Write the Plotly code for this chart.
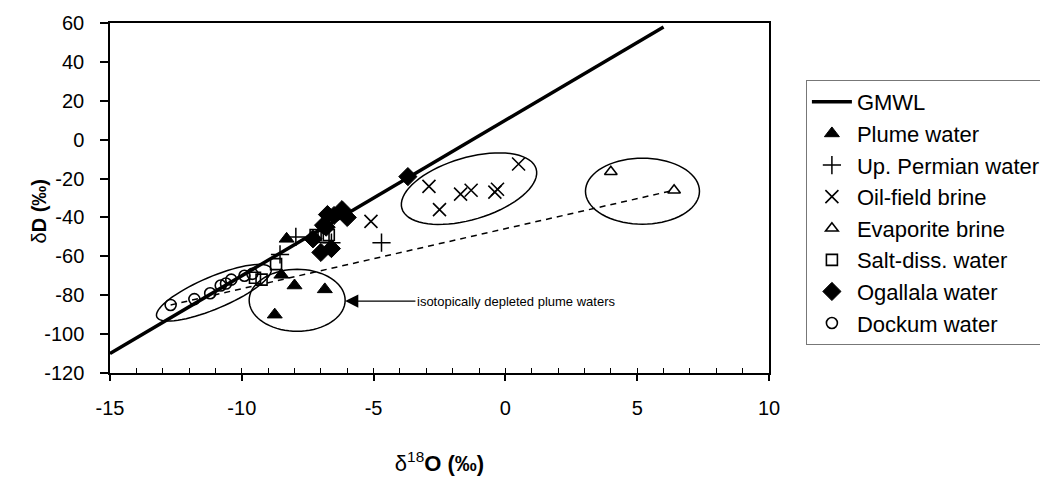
import math
import plotly.graph_objects as go

# ---------------- data ----------------
gmwl_x = [-15, 6]
gmwl_y = [-110, 58]

mix_x = [-12.7, 6.4]
mix_y = [-85, -26]

plume_x = [-8.3, -8.5, -8.0, -6.85, -8.75]
plume_y = [-51, -69.5, -75, -77, -90]

permian_x = [-4.7, -7.95, -8.55, -6.6]
permian_y = [-53, -50, -59, -53]

oil_x = [-2.9, -2.5, -1.7, -1.3, -0.4, -0.3, 0.5, -5.1]
oil_y = [-24, -36, -28, -26, -27, -25.5, -12.5, -42]

evap_x = [4.0, 6.4]
evap_y = [-16.5, -26]

salt_x = [-8.7, -9.5, -9.25, -7.2, -6.9, -6.7]
salt_y = [-64, -71, -72, -49, -50, -49]

ogal_x = [-3.7, -6.2, -6.0, -6.5, -6.75, -6.9, -7.3, -7.0, -6.6, -6.8]
ogal_y = [-19, -36, -40, -39, -38.5, -44, -51, -58, -56, -45]

dock_x = [-12.7, -11.8, -11.2, -10.8, -10.6, -10.4, -9.9, -9.6]
dock_y = [-85, -82, -79, -75, -74, -72, -70, -69]

x_ticks = [-15, -10, -5, 0, 5, 10]
x_labels = ["-15", "-10", "-5", "0", "5", "10"]
y_ticks = [-120, -100, -80, -60, -40, -20, 0, 20, 40, 60]
y_labels = ["-120", "-100", "-80", "-60", "-40", "-20", "0", "20", "40", "60"]

# ---------------- layout constants ----------------
W, H = 1048, 489
ML, MT = 102, 15
PW, PH = 659, 350
MR, MB = W - ML - PW, H - MT - PH
XR = [-15, 10]
YR = [-120, 60]
PXX = PW / (XR[1] - XR[0])   # px per x unit
PXY = PH / (YR[1] - YR[0])   # px per y unit

FONT = "Arial, Liberation Sans, sans-serif"


def ellipse_path(cx, cy, a, b, ang, n=72):
    t = math.radians(ang)
    pts = []
    for i in range(n + 1):
        th = 2 * math.pi * i / n
        u, v = a * math.cos(th), b * math.sin(th)
        px = u * math.cos(t) - v * math.sin(t)
        py = u * math.sin(t) + v * math.cos(t)
        pts.append((cx + px / PXX, cy + py / PXY))
    d = "M %.4f,%.4f " % pts[0] + " ".join("L %.4f,%.4f" % p for p in pts[1:]) + " Z"
    return d


fig = go.Figure()

fig.add_trace(go.Scatter(x=mix_x, y=mix_y, mode="lines", showlegend=False,
                         line=dict(color="black", width=1.5, dash="6px,5px")))
fig.add_trace(go.Scatter(x=gmwl_x, y=gmwl_y, mode="lines", name="GMWL",
                         line=dict(color="black", width=3.5), legendgroup="a"))

series = [
    ("Plume water", plume_x, plume_y, "triangle-up", 1, 13),
    ("Up. Permian water", permian_x, permian_y, "cross-thin", 1.5, 13),
    ("Oil-field brine", oil_x, oil_y, "x-thin", 1.6, 13),
    ("Evaporite brine", evap_x, evap_y, "triangle-up-open", 1.6, 11),
    ("Salt-diss. water", salt_x, salt_y, "square-open", 1.6, 11),
    ("Ogallala water", ogal_x, ogal_y, "diamond", 1, 14),
    ("Dockum water", dock_x, dock_y, "circle-open", 1.6, 11),
]
for i, (nm, xs, ys, sym, lw, sz) in enumerate(series):
    fig.add_trace(go.Scatter(
        x=xs, y=ys, mode="markers", name=nm, legendgroup="g%d" % i,
        marker=dict(symbol=sym, color="black", size=sz,
                    line=dict(color="black", width=lw))))

# ellipses (centre in data units, pixel semi-axes, screen angle)
ells = [
    (-11.06, -78.7, 62, 16, 23),
    (-7.9, -82.6, 48, 31, 0),
    (-1.38, -25.2, 70, 31, 16.5),
    (5.2, -26.5, 57, 33, 0),
]
shapes = []
for cx, cy, a, b, ang in ells:
    shapes.append(dict(type="path", xref="x", yref="y", path=ellipse_path(cx, cy, a, b, ang),
                       line=dict(color="black", width=1.5)))

fig.add_annotation(x=-6.08, y=-83, xref="x", yref="y", ax=0.4, ay=-83, axref="x", ayref="y",
                   text="isotopically depleted plume waters", showarrow=True,
                   arrowhead=2, arrowsize=2.2, arrowwidth=1.2, arrowcolor="black",
                   font=dict(family=FONT, size=13, color="black"))

# y axis title
fig.add_annotation(x=-0.108, y=-37, xref="paper", yref="y", showarrow=False, textangle=-90,
                   xanchor="center", yanchor="middle",
                   text="δ<b>D (‰)</b>", font=dict(family=FONT, size=20, color="black"))

fig.update_layout(
    width=W, height=H,
    margin=dict(l=ML, r=MR, t=MT, b=MB, autoexpand=False),
    paper_bgcolor="white", plot_bgcolor="white",
    font=dict(family=FONT, size=20, color="black"),
    shapes=shapes,
    showlegend=True,
    legend=dict(x=1.056, y=0.837, xanchor="left", yanchor="top",
                bordercolor="#777", borderwidth=1, bgcolor="white",
                font=dict(family=FONT, size=22, color="black"),
                tracegroupgap=0, itemwidth=40),
    xaxis=dict(range=XR, tickvals=x_ticks, ticktext=x_labels, ticks="outside", ticklen=6,
               tickwidth=1.5, tickcolor="black", showgrid=False, zeroline=False, showline=True,
               linecolor="black", linewidth=1.5, mirror=True, automargin=False,
               ticklabelstandoff=10,
               tickfont=dict(family=FONT, size=20, color="black"),
               title=dict(text="δ<sup>18</sup><b>O (‰)</b>",
                          font=dict(family=FONT, size=22, color="black"), standoff=38)),
    xaxis2=dict(range=XR, overlaying="x", matches="x", tickvals=list(range(-15, 11)),
                ticks="inside", ticklen=5, tickwidth=1.2, tickcolor="black", automargin=False,
                showticklabels=False, showgrid=False, zeroline=False, side="bottom"),
    yaxis=dict(range=YR, tickvals=y_ticks, ticktext=y_labels, ticks="outside", ticklen=8,
               tickwidth=1.5, tickcolor="black", showgrid=False, zeroline=False, showline=True,
               linecolor="black", linewidth=1.5, mirror=True, automargin=False,
               ticklabelstandoff=12,
               tickfont=dict(family=FONT, size=20, color="black")),
)
# dummy trace to activate xaxis2
fig.add_trace(go.Scatter(x=[None], y=[None], xaxis="x2", showlegend=False, hoverinfo="skip"))

fig.write_html("out.html")
